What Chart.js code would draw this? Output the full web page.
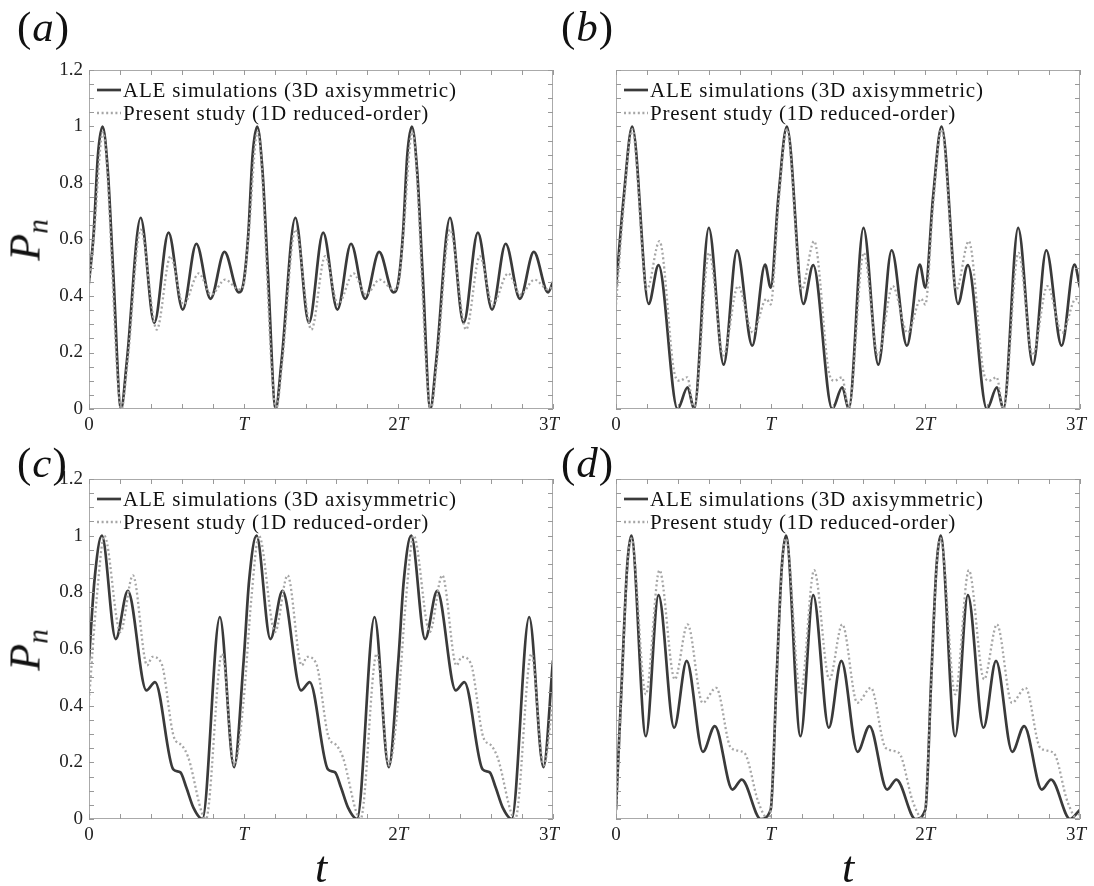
<!DOCTYPE html>
<html>
<head>
<meta charset="utf-8">
<script src="https://cdn.jsdelivr.net/npm/chart.js@4.4.1/dist/chart.umd.min.js"></script>
<style>
  body { margin: 0; background: #fff; width: 1094px; height: 886px; position: relative; overflow: hidden; font-family: "Liberation Serif", serif; color: #111; }
  canvas { position: absolute; }
  .panel { position: absolute; font-size: 43px; line-height: 43px; letter-spacing: 1px; }
  .ylab { position: absolute; font-size: 44px; font-style: italic; transform: translate(-50%, -50%) rotate(-90deg); white-space: nowrap; }
  .ylab sub { font-size: 29px; vertical-align: -8px; }
  .xlab { position: absolute; font-size: 44px; font-style: italic; transform: translate(-50%, -50%); }
</style>
</head>
<body>
<canvas id="chartA" width="560" height="440" style="left:0;top:0"></canvas>
<canvas id="chartB" width="534" height="440" style="left:560px;top:0"></canvas>
<canvas id="chartC" width="560" height="446" style="left:0;top:440px"></canvas>
<canvas id="chartD" width="534" height="446" style="left:560px;top:440px"></canvas>

<div class="panel" style="left:17px;top:5px">(<i>a</i>)</div>
<div class="panel" style="left:561px;top:5px">(<i>b</i>)</div>
<div class="panel" style="left:17px;top:441px">(<i>c</i>)</div>
<div class="panel" style="left:561px;top:441px">(<i>d</i>)</div>
<div class="ylab" style="left:27px;top:240px">P<sub>n</sub></div>
<div class="ylab" style="left:27px;top:650px">P<sub>n</sub></div>
<div class="xlab" style="left:321px;top:867px">t</div>
<div class="xlab" style="left:848px;top:867px">t</div>

<script>
// one period of each curve, t in units of T
const aleT_a = [0, 0.03, 0.058, 0.088, 0.122, 0.157, 0.207, 0.245, 0.334, 0.422, 0.514, 0.606, 0.694, 0.786, 0.876, 0.968];
const aleP_a = [0.45, 0.62, 0.90, 1.00, 0.84, 0.48, 0.00, 0.17, 0.677, 0.305, 0.624, 0.352, 0.585, 0.39, 0.556, 0.413];
const romT_a = [0, 0.03, 0.09, 0.21, 0.25, 0.334, 0.438, 0.527, 0.61, 0.71, 0.79, 0.88, 0.97];
const romP_a = [0.44, 0.60, 0.98, 0.00, 0.17, 0.635, 0.281, 0.541, 0.37, 0.48, 0.405, 0.458, 0.423];

const aleT_b = [0, 0.05, 0.105, 0.211, 0.275, 0.398, 0.463, 0.505, 0.60, 0.696, 0.782, 0.881, 0.964];
const aleP_b = [0.43, 0.75, 1.00, 0.372, 0.509, 0.00, 0.077, 0.00, 0.641, 0.157, 0.562, 0.224, 0.511];
const romT_b = [0, 0.05, 0.105, 0.20, 0.281, 0.38, 0.413, 0.461, 0.505, 0.602, 0.694, 0.789, 0.885, 0.973];
const romP_b = [0.37, 0.72, 0.99, 0.423, 0.594, 0.122, 0.10, 0.112, 0.00, 0.553, 0.19, 0.435, 0.27, 0.39];

const aleT_c = [0, 0.035, 0.083, 0.173, 0.251, 0.371, 0.427, 0.545, 0.59, 0.63, 0.675, 0.733, 0.846, 0.938];
const aleP_c = [0.56, 0.84, 1.00, 0.635, 0.805, 0.454, 0.483, 0.175, 0.165, 0.11, 0.04, 0.00, 0.713, 0.183];
const romT_c = [0, 0.05, 0.099, 0.203, 0.284, 0.376, 0.41, 0.468, 0.549, 0.60, 0.64, 0.756, 0.86, 0.94];
const romP_c = [0.42, 0.78, 1.00, 0.66, 0.86, 0.542, 0.572, 0.55, 0.289, 0.26, 0.22, 0.00, 0.583, 0.189];

const aleT_d = [0, 0.04, 0.072, 0.099, 0.193, 0.275, 0.376, 0.457, 0.562, 0.639, 0.753, 0.813, 0.936];
const aleP_d = [0.033, 0.52, 0.89, 1.00, 0.292, 0.79, 0.322, 0.558, 0.237, 0.328, 0.104, 0.139, 0.00];
const romT_d = [0, 0.04, 0.072, 0.099, 0.193, 0.281, 0.38, 0.463, 0.56, 0.648, 0.743, 0.83, 0.92, 0.985];
const romP_d = [0.03, 0.50, 0.88, 0.99, 0.44, 0.878, 0.493, 0.687, 0.41, 0.463, 0.251, 0.233, 0.06, 0.00];

const seriesNames = ["ALE simulations (3D axisymmetric)", "Present study (1D reduced-order)"];
const yTickLabels = ["0", "0.2", "0.4", "0.6", "0.8", "1", "1.2"];
const xTickLabels = [["0", ""], ["", "T"], ["2", "T"], ["3", "T"]];

const SERIF = '"Liberation Serif", serif';

// repeat one period over 0..3T
function tile(ts, ps) {
  const out = [];
  for (let k = 0; k < 3; k++) {
    ts.forEach((t, i) => out.push({ x: t + k, y: ps[i] }));
  }
  out.push({ x: 3, y: ps[0] });
  return out;
}

// frame, inward ticks, tick labels, legend
const framePlugin = {
  id: "frame",
  afterDatasetsDraw(chart, args, opts) {
    const { ctx, chartArea: a, scales } = chart;
    const xs = scales.x, ys = scales.y;
    ctx.save();
    ctx.strokeStyle = "#aaaaaa";
    ctx.lineWidth = 1;
    ctx.strokeRect(Math.round(a.left) + 0.5, Math.round(a.top) + 0.5, Math.round(a.width) - 1, Math.round(a.height) - 1);

    ctx.strokeStyle = "#999999";
    ctx.beginPath();
    const tl = 5;
    for (let i = 0; i <= 15; i++) {
      const px = Math.round(xs.getPixelForValue(i * 0.2)) + 0.5;
      ctx.moveTo(px, a.bottom); ctx.lineTo(px, a.bottom - tl);
      ctx.moveTo(px, a.top); ctx.lineTo(px, a.top + tl);
    }
    for (let i = 0; i <= 24; i++) {
      const py = Math.round(ys.getPixelForValue(i * 0.05)) + 0.5;
      ctx.moveTo(a.left, py); ctx.lineTo(a.left + tl, py);
      ctx.moveTo(a.right, py); ctx.lineTo(a.right - tl, py);
    }
    ctx.stroke();

    ctx.fillStyle = "#222";
    ctx.textBaseline = "middle";
    ctx.font = "19px " + SERIF;
    if (opts.yLabels) {
      ctx.textAlign = "right";
      yTickLabels.forEach((s, i) => {
        ctx.fillText(s, a.left - 6, ys.getPixelForValue(i * 0.2));
      });
    }
    // x labels: upright digit + italic T
    ctx.textAlign = "left";
    xTickLabels.forEach((parts, i) => {
      const up = "19px " + SERIF, it = "italic 19px " + SERIF;
      ctx.font = up; const w1 = ctx.measureText(parts[0]).width;
      ctx.font = it; const w2 = ctx.measureText(parts[1]).width;
      let x0 = xs.getPixelForValue(i) - (w1 + w2) / 2;
      if (i === 3) x0 -= 4;
      const y0 = a.bottom + 16;
      ctx.font = up; ctx.fillText(parts[0], x0, y0);
      ctx.font = it; ctx.fillText(parts[1], x0 + w1, y0);
    });

    // legend inside the plot
    ctx.font = "21px " + SERIF;
    ctx.letterSpacing = "0.8px";
    chart.data.datasets.forEach((ds, i) => {
      const y = a.top + 20 + i * 23;
      ctx.save();
      ctx.strokeStyle = ds.borderColor;
      ctx.lineWidth = ds.borderWidth;
      ctx.setLineDash(ds.borderDash || []);
      ctx.beginPath();
      ctx.moveTo(a.left + 8, y); ctx.lineTo(a.left + 32, y);
      ctx.stroke();
      ctx.restore();
      ctx.fillStyle = "#111";
      ctx.fillText(ds.label, a.left + 34, y + 1);
    });
    ctx.restore();
  }
};

function makeChart(id, ale, rom, pad, yLabels) {
  return new Chart(document.getElementById(id), {
    type: "line",
    data: {
      datasets: [
        {
          label: seriesNames[0],
          data: ale,
          borderColor: "#3a3a3a",
          borderWidth: 2.7,
          pointRadius: 0,
          cubicInterpolationMode: "monotone",
          order: 1,
        },
        {
          label: seriesNames[1],
          data: rom,
          borderColor: "#a6a6a6",
          borderWidth: 2.3,
          borderDash: [2, 2.6],
          pointRadius: 0,
          cubicInterpolationMode: "monotone",
          order: 0,
        },
      ],
    },
    options: {
      responsive: false,
      animation: false,
      events: [],
      layout: { padding: pad },
      scales: {
        x: { type: "linear", min: 0, max: 3, display: false },
        y: { type: "linear", min: 0, max: 1.2, display: false },
      },
      plugins: {
        legend: { display: false },
        tooltip: { enabled: false },
        frame: { yLabels },
      },
    },
    plugins: [framePlugin],
  });
}

makeChart("chartA", tile(aleT_a, aleP_a), tile(romT_a, romP_a), { left: 89, right: 7, top: 70, bottom: 31 }, true);
makeChart("chartB", tile(aleT_b, aleP_b), tile(romT_b, romP_b), { left: 56, right: 14, top: 70, bottom: 31 }, false);
makeChart("chartC", tile(aleT_c, aleP_c), tile(romT_c, romP_c), { left: 89, right: 7, top: 39, bottom: 67 }, true);
makeChart("chartD", tile(aleT_d, aleP_d), tile(romT_d, romP_d), { left: 56, right: 14, top: 39, bottom: 67 }, false);
</script>
</body>
</html>
